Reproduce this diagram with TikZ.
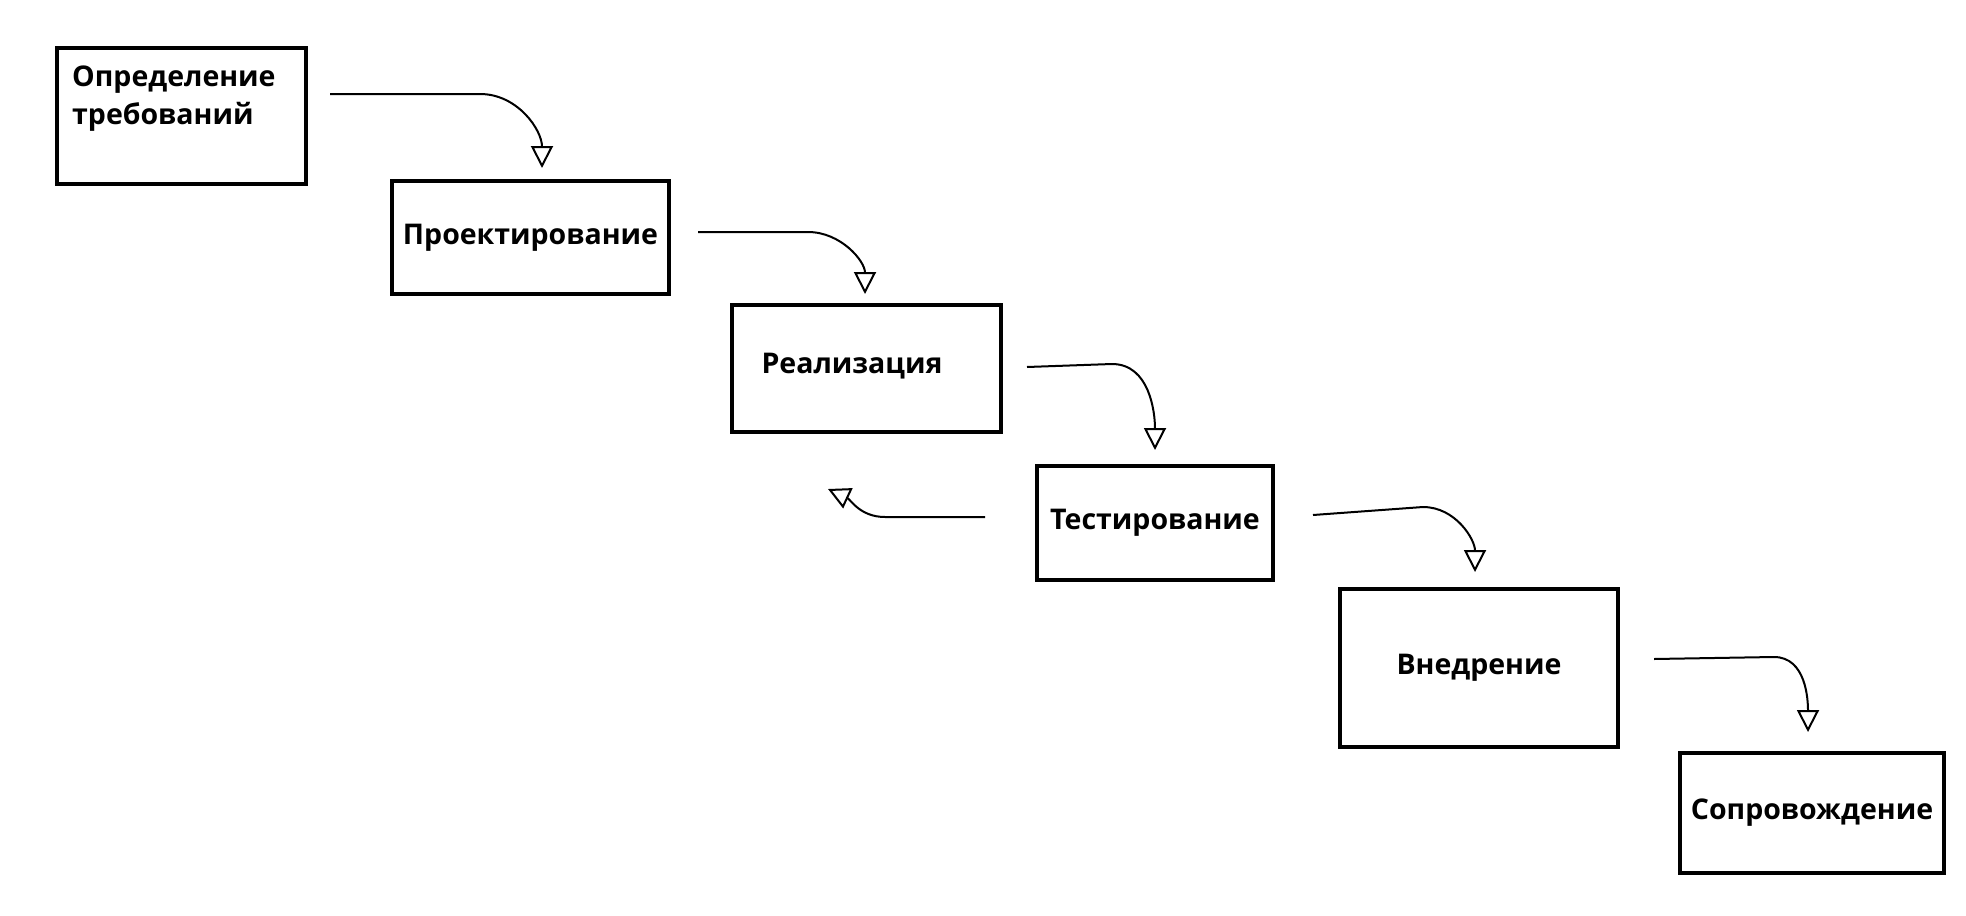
\documentclass[tikz,border=0pt]{standalone}
\usepackage{fontspec}
\setsansfont{Open Sans}
\usetikzlibrary{arrows.meta}
\tikzset{
    stage-box/.style = {draw, line width=4.5pt, rectangle, inner sep=0pt, font=\sffamily\bfseries\fontsize{28.5}{38}\selectfont},
    stage-text/.style = {inner sep=0pt, align=left, font=\sffamily\bfseries\fontsize{28.5}{38}\selectfont},
    stage-arrow/.style = {line width=2pt, -{Triangle[open, width=22pt, length=22pt]}},
}
\begin{document}
\begin{tikzpicture}[x=1pt, y=1pt]
\useasboundingbox (0,0) rectangle (1966,-916);
\node[stage-box, minimum width=249pt, minimum height=136pt] (req) at (181.5,-116) {};
\node[stage-text, anchor=north west] (req-text) at (72,-66) {Определение\\требований};
\node[stage-box, minimum width=277pt, minimum height=113pt] (design) at (530.5,-237.5) {Проектирование};
\node[stage-box, minimum width=269pt, minimum height=127pt] (impl) at (866.5,-368.5) {};
\node[stage-text] (impl-text) at (852,-366) {Реализация};
\node[stage-box, minimum width=236pt, minimum height=114pt] (test) at (1155,-523) {Тестирование};
\node[stage-box, minimum width=278pt, minimum height=158pt] (deploy) at (1479,-668) {Внедрение};
\node[stage-box, minimum width=264pt, minimum height=120pt] (support) at (1812,-813) {Сопровождение};

% arrow ends
\coordinate (req-out) at (330,-94);
\coordinate (design-in) at (542,-168);
\coordinate (design-out) at (698,-232);
\coordinate (impl-in) at (865,-294);
\coordinate (impl-out) at (1027,-367);
\coordinate (test-in) at (1155,-450);
\coordinate (test-back) at (985,-517);
\coordinate (impl-back) at (828,-489);
\coordinate (test-out) at (1313,-515);
\coordinate (deploy-in) at (1475,-572);
\coordinate (deploy-out) at (1654,-659);
\coordinate (support-in) at (1808,-732);

\draw[stage-arrow] (req-out) -- ++(150,0) to[out=0,in=90] (design-in);
\draw[stage-arrow] (design-out) -- ++(110,0) to[out=0,in=90] (impl-in);
\draw[stage-arrow] (impl-out) -- ++(85,3) to[out=0,in=90] (test-in);
\draw[stage-arrow] (test-back) -- ++(-100,0) to[out=180,in=-25] (impl-back);
\draw[stage-arrow] (test-out) -- ++(110,8) to[out=0,in=90] (deploy-in);
\draw[stage-arrow] (deploy-out) -- ++(120,2) to[out=0,in=90] (support-in);
\end{tikzpicture}
\end{document}
